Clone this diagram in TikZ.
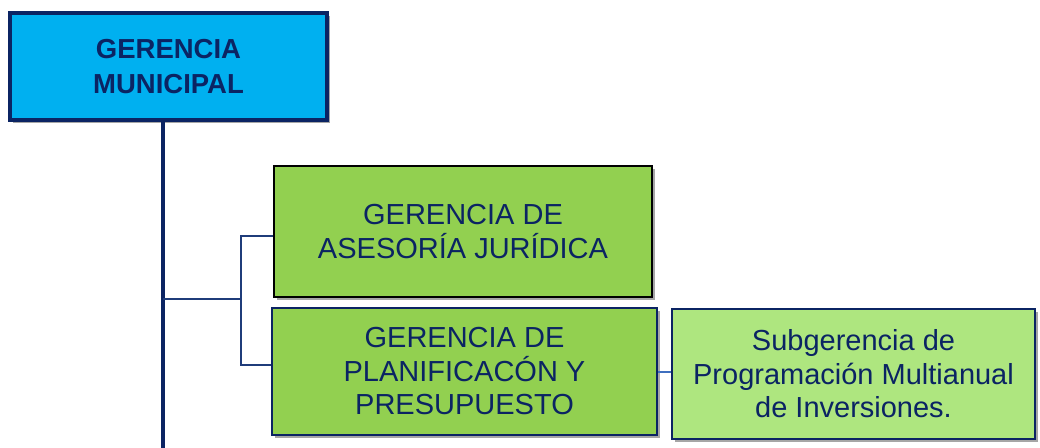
\documentclass[tikz,border=0pt]{standalone}
\usepackage{fontspec}
\setmainfont{Liberation Sans}
\usetikzlibrary{shadows}
\definecolor{navy}{HTML}{0B2463}
\definecolor{cyanfill}{HTML}{00B0F0}
\definecolor{greenfill}{HTML}{92D050}
\definecolor{lightgreen}{HTML}{AEE67F}
\definecolor{connblue}{HTML}{1F3C7A}
\definecolor{steel}{HTML}{3F6FBF}
\tikzset{
  box/.style={rectangle, align=center, inner sep=0pt, text=navy,
    drop shadow={shadow xshift=2.5pt, shadow yshift=-2.5pt, opacity=0.35, fill=black}},
  topbox/.style={box, fill=cyanfill, draw=navy, line width=4pt,
    font=\bfseries\fontsize{27.5}{35}\selectfont},
  greenbox/.style={box, fill=greenfill, line width=2.5pt,
    font=\fontsize{29}{33.5}\selectfont},
  subbox/.style={box, fill=lightgreen, draw=navy, line width=2pt,
    font=\fontsize{29}{33.5}\selectfont},
  conn/.style={draw=connblue, line width=1.5pt},
  trunk/.style={draw=navy, line width=4pt}
}
\begin{document}
\begin{tikzpicture}[x=1pt, y=-1pt]
\useasboundingbox (0,0) rectangle (1040,447);
\node[topbox, minimum width=317pt, minimum height=107pt] (top) at (168.5,66.5) {GERENCIA\\MUNICIPAL};
\node[greenbox, draw=black, minimum width=378pt, minimum height=131pt] (ase) at (463,231.5) {GERENCIA DE\\ASESORÍA JURÍDICA};
\node[greenbox, draw=navy, line width=2pt, minimum width=385pt, minimum height=127pt] (pla) at (464.5,371.5) {GERENCIA DE\\PLANIFICACÓN Y\\PRESUPUESTO};
\node[subbox, minimum width=363pt, minimum height=130pt] (sub) at (853.5,374) {Subgerencia de\\Programación Multianual\\de Inversiones.};
\coordinate (vb) at (163,449);
\coordinate (j) at (163,299);
\coordinate (k) at (241,299);
\draw[trunk] (top.south -| vb) -- (vb);
\draw[conn] (j) -- (k);
\draw[conn] (k) |- ([yshift=-4.5pt]ase.west);
\draw[conn] (k) |- ([yshift=6.5pt]pla.west);
\draw[draw=steel, line width=2pt] (pla.east) -- (pla.east -| sub.west);
\end{tikzpicture}
\end{document}
